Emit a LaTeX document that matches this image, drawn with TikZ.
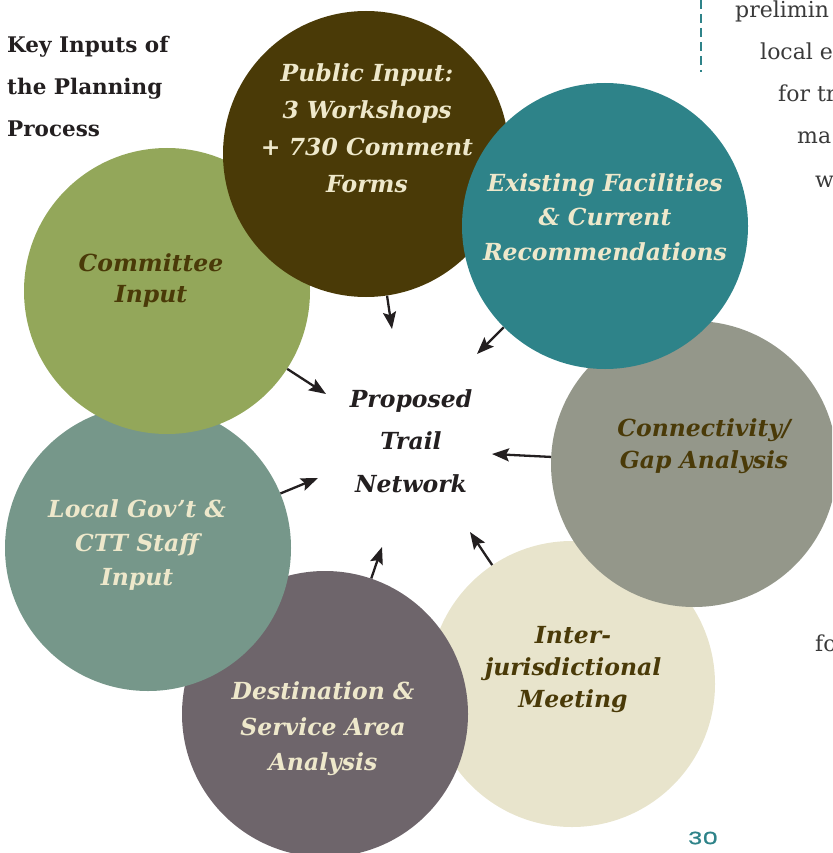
\documentclass[tikz,border=0pt]{standalone}
\usepackage{fontspec}
\setmainfont{DejaVu Serif}
\newfontfamily\popfont[FakeStretch=1.45,FakeBold=1.2]{Poppins}
\usetikzlibrary{arrows.meta}
\definecolor{cbrown}{HTML}{4A3A07}
\definecolor{cteal}{HTML}{2E8389}
\definecolor{cgreen}{HTML}{93A75A}
\definecolor{cgray}{HTML}{94978A}
\definecolor{csage}{HTML}{76978A}
\definecolor{cmauve}{HTML}{6E656B}
\definecolor{ccream}{HTML}{E8E4CC}
\definecolor{lighttxt}{HTML}{EEE8CB}
\definecolor{darktxt}{HTML}{4A3A08}
\definecolor{arrowc}{HTML}{231F20}
\definecolor{bodytxt}{HTML}{3A3A3A}
\begin{document}
\begin{tikzpicture}[x=1pt,y=-1pt,
  bubble/.style={circle, minimum size=286pt, inner sep=0pt, draw=none},
  lab/.style={align=center, inner sep=0pt, font=\bfseries\itshape\fontsize{23.5}{#1}\selectfont},
  lab/.default=35,
  arr/.style={draw=arrowc, line width=2.3pt, -{Stealth[length=17pt,width=13pt,inset=3pt]}},
  body/.style={anchor=base west, inner sep=0pt, text=bodytxt, font=\fontsize{22}{26}\selectfont}]
\useasboundingbox (0,0) rectangle (832,853);
\clip (0,0) rectangle (832,853);

% circles, bottom to top
\node[bubble, fill=ccream] (inter) at (572,684) {};
\node[bubble, fill=cmauve] (dest) at (325,714) {};
\node[bubble, fill=csage] (gov) at (148,548) {};
\node[bubble, fill=cgreen] (comm) at (167,291) {};
\node[bubble, fill=cbrown] (pub) at (366,154) {};
\node[bubble, fill=cgray] (gap) at (694,464) {};
\node[bubble, fill=cteal] (exist) at (605,226) {};

% circle texts
\node[lab=37, text=lighttxt] (pubt) at (367,128) {Public Input:\\3 Workshops\\+ 730 Comment\\Forms};
\node[lab=34.5, text=lighttxt] (existt) at (605,217) {Existing Facilities\\\& Current\\Recommendations};
\node[lab=31, text=darktxt] (commt) at (151,281) {Committee\\Input};
\node[lab=32, text=darktxt] (gapt) at (704,446) {Connectivity/\\Gap Analysis};
\node[lab=34, text=lighttxt] (govt) at (137,545) {Local Gov’t \&\\CTT Staff\\Input};
\node[lab=35.5, text=lighttxt] (destt) at (323,729) {Destination \&\\Service Area\\Analysis};
\node[lab=32, text=darktxt] (intert) at (573,670) {Inter-\\jurisdictional\\Meeting};
\node[lab=42.5, text=arrowc] (center) at (411,441) {Proposed\\Trail\\Network};

% arrow tips
\coordinate (t1) at (392,329);
\coordinate (t2) at (477,354);
\coordinate (t3) at (326,394);
\coordinate (t4) at (492,454);
\coordinate (t5) at (318,478);
\coordinate (t6) at (382,547);
\coordinate (t7) at (470,532);
\draw[arr] (pub) -- (t1);
\draw[arr] (exist) -- (t2);
\draw[arr] (comm) -- (t3);
\draw[arr] (gap) -- (t4);
\draw[arr] (gov) -- (t5);
\draw[arr] (dest) -- (t6);
\draw[arr] (inter) -- (t7);

% heading
\node[anchor=west, align=left, inner sep=0pt, text=arrowc, font=\bfseries\fontsize{21.5}{42}\selectfont] (head) at (7,86) {Key Inputs of\\the Planning\\Process};

% right column text (cut off by the page edge)
\coordinate (dtop) at (701,0);
\coordinate (dbot) at (701,72);
\draw[cteal, line width=2pt, dash pattern=on 9pt off 5pt] (dtop) -- (dbot);
\node[body] (r1) at (735,18) {prelimin};
\node[body] (r2) at (760,60) {local ex};
\node[body] (r3) at (778,102) {for tr};
\node[body] (r4) at (797,144) {ma};
\node[body] (r5) at (815,187) {w};
\node[body] (r6) at (815,651) {fo};

% page number
\node[text=cteal, inner sep=0pt, font=\popfont\fontsize{17}{20}\selectfont] (pg) at (703,838) {30};
\end{tikzpicture}
\end{document}
